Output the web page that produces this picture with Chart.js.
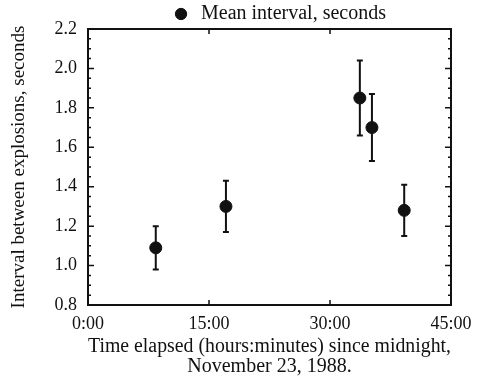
<!DOCTYPE html>
<html>
<head>
<meta charset="utf-8">
<script src="https://cdn.jsdelivr.net/npm/chart.js@4.4.0/dist/chart.umd.min.js"></script>
<style>
	html, body { margin: 0; padding: 0; background: #fff; }
</style>
</head>
<body>
<canvas id="myChart" width="480" height="380"></canvas>
<script>
// elapsed time of each sample (minutes shown as "mm:00")
const times = [8.4, 17.1, 33.7, 35.2, 39.2];
// mean interval between explosions, seconds
const mean_interval = [1.09, 1.30, 1.85, 1.70, 1.28];
// error bar ends
const err_low = [0.98, 1.17, 1.66, 1.53, 1.15];
const err_high = [1.20, 1.43, 2.04, 1.87, 1.41];

const x_ticks = [0, 15, 30, 45];
const y_ticks = [0.8, 1.0, 1.2, 1.4, 1.6, 1.8, 2.0, 2.2];

const ink = '#111';
const serif = 'Liberation Serif';

// vertical error bars, drawn under the points
const errorBars = {
	id: 'errorBars',
	beforeDatasetsDraw(chart) {
		const { ctx, scales: { x, y } } = chart;
		ctx.save();
		ctx.strokeStyle = ink;
		ctx.lineWidth = 2;
		ctx.beginPath();
		times.forEach((t, i) => {
			const px = x.getPixelForValue(t);
			const top = y.getPixelForValue(err_high[i]);
			const bot = y.getPixelForValue(err_low[i]);
			ctx.moveTo(px, top); ctx.lineTo(px, bot);
			ctx.moveTo(px - 3, top); ctx.lineTo(px + 3, top);
			ctx.moveTo(px - 3, bot); ctx.lineTo(px + 3, bot);
		});
		ctx.stroke();
		ctx.restore();
	}
};

// box around the plot with inward ticks on all four sides
const frame = {
	id: 'frame',
	afterDraw(chart) {
		const { ctx, chartArea: a, scales: { x, y } } = chart;
		ctx.save();
		ctx.strokeStyle = ink;
		ctx.lineWidth = 2;
		ctx.strokeRect(a.left, a.top, a.right - a.left, a.bottom - a.top);

		ctx.lineWidth = 1.5;
		ctx.beginPath();
		x.ticks.forEach(t => {
			const px = x.getPixelForValue(t.value);
			ctx.moveTo(px, a.bottom); ctx.lineTo(px, a.bottom - 5);
			ctx.moveTo(px, a.top); ctx.lineTo(px, a.top + 5);
		});
		y.ticks.forEach((t, i) => {
			const py = y.getPixelForValue(t.value);
			ctx.moveTo(a.left, py); ctx.lineTo(a.left + 6, py);
			ctx.moveTo(a.right, py); ctx.lineTo(a.right - 6, py);
			// minor ticks every quarter step
			if (i < y.ticks.length - 1) {
				const next = y.ticks[i + 1].value;
				for (let k = 1; k < 4; k++) {
					const pm = y.getPixelForValue(t.value + (next - t.value) * k / 4);
					ctx.moveTo(a.left, pm); ctx.lineTo(a.left + 3, pm);
					ctx.moveTo(a.right, pm); ctx.lineTo(a.right - 3, pm);
				}
			}
		});
		ctx.stroke();
		ctx.restore();
	}
};

// nudge the legend to the right over the plot
const legendShift = {
	id: 'legendShift',
	afterLayout(chart) {
		chart.legend.left += 9;
		chart.legend.right += 9;
	}
};

const data = {
	datasets: [
		{
			label: 'Mean interval, seconds',
			data: times.map((t, i) => ({ x: t, y: mean_interval[i] })),
			backgroundColor: ink,
			borderColor: ink,
			borderWidth: 1,
			pointStyle: 'circle',
			pointRadius: 6,
		},
	],
};

const config = {
	type: 'scatter',
	data: data,
	options: {
		responsive: false,
		animation: false,
		layout: { padding: { top: 4, right: 29, left: 0, bottom: 0 } },
		plugins: {
			tooltip: { enabled: false },
			legend: {
				fullSize: false,
				maxHeight: 25,
				labels: {
					usePointStyle: true,
					boxHeight: 8,
					padding: 0,
					color: ink,
					font: { family: serif, size: 20, lineHeight: 1 },
				},
			},
		},
		scales: {
			x: {
				type: 'linear',
				min: 0,
				max: 45,
				afterBuildTicks: (scale) => { scale.ticks = x_ticks.map(v => ({ value: v })); },
				afterFit: (scale) => { scale.height = 75; },
				ticks: {
					color: ink,
					padding: 8,
					font: { family: serif, size: 18 },
					callback: (v) => v + ':00',
				},
				grid: { display: false, drawTicks: false },
				border: { display: false },
				title: {
					display: true,
					text: ['Time elapsed (hours:minutes) since midnight,', 'November 23, 1988.'],
					color: ink,
					font: { family: serif, size: 20, lineHeight: 1 },
					padding: { top: 0, bottom: 3 },
				},
			},
			y: {
				type: 'linear',
				min: 0.8,
				max: 2.2,
				afterBuildTicks: (scale) => { scale.ticks = y_ticks.map(v => ({ value: v })); },
				afterFit: (scale) => { scale.width = 88; },
				ticks: {
					color: ink,
					padding: 11,
					font: { family: serif, size: 18 },
					callback: (v) => Number(v).toFixed(1),
				},
				grid: { display: false, drawTicks: false },
				border: { display: false },
				title: {
					display: true,
					text: 'Interval between explosions, seconds',
					color: ink,
					font: { family: serif, size: 19 },
					padding: { top: 8, bottom: 0 },
				},
			},
		},
	},
	plugins: [errorBars, frame, legendShift],
};

var myChart = new Chart(document.getElementById('myChart'), config);
</script>
</body>
</html>
